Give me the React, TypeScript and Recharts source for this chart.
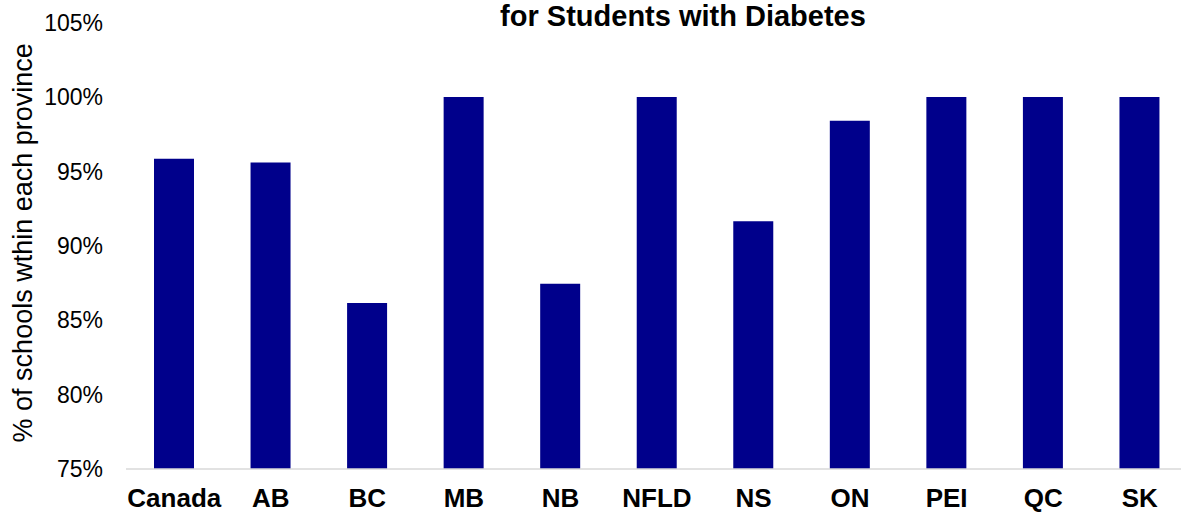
import React from 'react';
import { BarChart, Bar, XAxis, YAxis, Label } from 'recharts';

const categories = ['Canada', 'AB', 'BC', 'MB', 'NB', 'NFLD', 'NS', 'ON', 'PEI', 'QC', 'SK'];
const values = [95.85, 95.6, 86.15, 100, 87.45, 100, 91.65, 98.4, 100, 100, 100];
const yTicks = [75, 80, 85, 90, 95, 100, 105];
const titleText = 'for Students with Diabetes';
const yLabelText = '% of schools wthin each province';

const data = categories.map((c, i) => ({ name: c, value: values[i] }));

const FONT = '"Liberation Sans", Arial, Helvetica, sans-serif';

const YLabel = (props: any) => {
  const vb = props.viewBox || {};
  const cy = (vb.y || 0) + (vb.height || 0) / 2 - 3;
  return (
    <text
      x={23}
      y={cy}
      transform={`rotate(-90, 23, ${cy})`}
      textAnchor="middle"
      dominantBaseline="central"
      fontFamily={FONT}
      fontSize={27}
      fill="#000"
    >
      {yLabelText}
    </text>
  );
};

export default function App() {
  return (
    <div style={{ position: 'absolute', left: 0, top: 0, width: 1181, height: 512, overflow: 'hidden', background: '#fff' }}>
      <BarChart
        width={1188}
        height={512}
        data={data}
        margin={{ top: 22.6, right: 0, bottom: 0, left: 0 }}
        barCategoryGap={0}
      >
        <text
          x={683}
          y={26}
          textAnchor="middle"
          fontFamily={FONT}
          fontSize={29}
          fontWeight="bold"
          fill="#000"
        >
          {titleText}
        </text>
        <XAxis
          dataKey="name"
          height={43}
          axisLine={{ stroke: '#d9d9d9', strokeWidth: 1.5 }}
          tickLine={false}
          tickSize={0}
          tickMargin={20}
          interval={0}
          tick={{ fontFamily: FONT, fontSize: 26, fontWeight: 'bold', fill: '#000' }}
        />
        <YAxis
          width={126}
          domain={[75, 105]}
          ticks={yTicks}
          allowDataOverflow
          axisLine={false}
          tickLine={false}
          tickSize={0}
          tickMargin={23}
          tickFormatter={(v: number) => `${v}%`}
          tick={{ fontFamily: FONT, fontSize: 23, fill: '#000' }}
        >
          <Label content={<YLabel />} />
        </YAxis>
        <Bar dataKey="value" fill="#00008B" barSize={40} isAnimationActive={false} />
      </BarChart>
    </div>
  );
}
